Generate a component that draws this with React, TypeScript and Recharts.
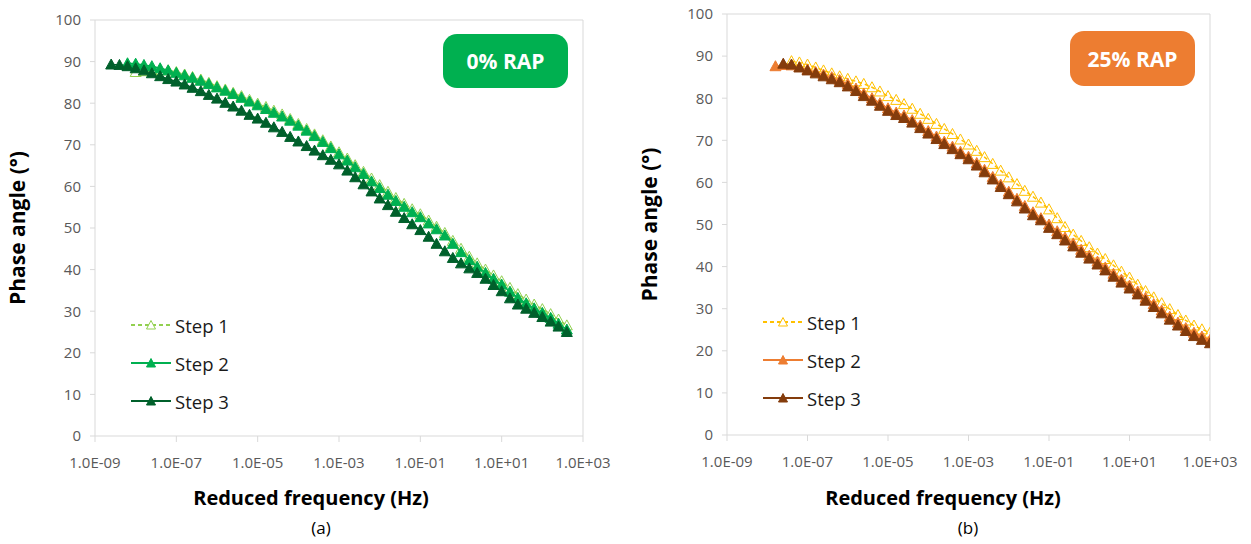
import React from "react"
import { LineChart, Line, XAxis, YAxis, ReferenceLine, Legend } from "recharts"

const xTicks = [1e-9, 1e-7, 1e-5, 1e-3, 1e-1, 1e1, 1e3]
const xTickLabels = ["1.0E-09", "1.0E-07", "1.0E-05", "1.0E-03", "1.0E-01", "1.0E+01", "1.0E+03"]
const yTicks = [0, 10, 20, 30, 40, 50, 60, 70, 80, 90, 100]
const stepNames = ["Step 1", "Step 2", "Step 3"]

// (a) 0% RAP
const freqA = [
  2.5e-9, 4e-9, 6.3e-9,
  1e-8, 1.6e-8, 2.5e-8, 4e-8, 6.3e-8,
  1e-7, 1.6e-7, 2.5e-7, 4e-7, 6.3e-7,
  1e-6, 1.6e-6, 2.5e-6, 4e-6, 6.3e-6,
  1e-5, 1.6e-5, 2.5e-5, 4e-5, 6.3e-5,
  1e-4, 1.6e-4, 2.5e-4, 4e-4, 6.3e-4,
  1e-3, 1.6e-3, 2.5e-3, 4e-3, 6.3e-3,
  1e-2, 1.6e-2, 2.5e-2, 4e-2, 6.3e-2,
  0.1, 0.16, 0.25, 0.4, 0.63,
  1, 1.6, 2.5, 4, 6.3,
  10, 16, 25, 40, 63,
  100, 160, 250, 400,
]
const step1A = [
  null, null, null,
  87.5, 87.7, 87.9, 88.0, 87.9, 87.5, 86.9, 86.3, 85.7, 84.9,
  84.1, 83.3, 82.5, 81.7, 80.8, 79.9, 79.1, 78.2, 77.3, 76.2,
  75.0, 73.8, 72.5, 71.1, 69.6, 68.2, 66.7, 65.1, 63.5, 61.9,
  60.3, 58.7, 57.2, 55.8, 54.5, 53.3, 51.8, 50.3, 48.8, 46.9,
  45.0, 43.1, 41.5, 40.0, 38.6, 37.2, 35.6, 34.1, 32.8, 31.6,
  30.5, 29.3, 28.0, 26.6,
]
const step2A = [
  null, null,
  89.6, 89.5, 89.2, 88.9, 88.4, 87.9, 87.3, 86.7, 86.1, 85.4,
  84.6, 83.8, 83.0, 82.2, 81.3, 80.4, 79.5, 78.6, 77.7, 76.8,
  75.8, 74.6, 73.4, 72.1, 70.7, 69.2, 67.7, 66.2, 64.6, 63.0,
  61.2, 59.6, 58.0, 56.5, 55.1, 53.8, 52.6, 51.1, 49.7, 48.2,
  46.2, 44.2, 42.3, 40.7, 39.2, 37.8, 36.4, 34.7, 33.2, 31.9,
  30.7, 29.6, 28.4, 27.0, 25.6,
]
const step3A = [
  89.3, 89.2, 88.9, 88.4, 87.9, 87.2, 86.5, 85.8, 85.2, 84.5,
  83.7, 82.9, 82.0, 81.1, 80.1, 79.2, 78.2, 77.2, 76.3, 75.3,
  74.2, 73.1, 71.9, 70.8, 69.7, 68.6, 67.5, 66.4, 65.3, 63.8,
  62.2, 60.5, 58.8, 57.1, 55.5, 53.9, 52.4, 50.9, 49.5, 47.9,
  46.2, 44.4, 42.8, 41.5, 40.3, 39.2, 37.8, 36.3, 34.8, 33.1,
  31.6, 30.6, 29.6, 28.6, 27.5, 26.3, 25.0,
]

// (b) 25% RAP
const freqB = [
  1.6e-8, 2.5e-8, 4e-8, 6.3e-8,
  1e-7, 1.6e-7, 2.5e-7, 4e-7, 6.3e-7,
  1e-6, 1.6e-6, 2.5e-6, 4e-6, 6.3e-6,
  1e-5, 1.6e-5, 2.5e-5, 4e-5, 6.3e-5,
  1e-4, 1.6e-4, 2.5e-4, 4e-4, 6.3e-4,
  1e-3, 1.6e-3, 2.5e-3, 4e-3, 6.3e-3,
  1e-2, 1.6e-2, 2.5e-2, 4e-2, 6.3e-2,
  0.1, 0.16, 0.25, 0.4, 0.63,
  1, 1.6, 2.5, 4, 6.3,
  10, 16, 25, 40, 63,
  100, 160, 250, 400, 630,
  1000,
]
const step1B = [
  null, null,
  88.8, 88.5, 88.0, 87.3, 86.6, 85.9, 85.2, 84.6, 84.0, 83.4,
  82.6, 81.6, 80.5, 79.6, 78.6, 77.5, 76.3, 75.1, 73.9, 72.7,
  71.5, 70.2, 69.0, 67.5, 66.0, 64.4, 62.8, 61.2, 59.6, 58.0,
  56.6, 55.2, 53.6, 51.5, 49.4, 47.6, 46.1, 44.6, 43.1, 41.8,
  40.3, 38.8, 37.4, 35.7, 34.2, 32.7, 31.3, 29.9, 28.5, 27.2,
  26.0, 25.1, 24.3,
]
const step2B = [
  87.6, 87.9, 87.8, 87.4, 86.8, 86.2, 85.6, 85.0, 84.3, 83.4,
  82.3, 81.1, 80.0, 78.8, 77.6, 76.6, 75.9, 74.8, 73.5, 72.2,
  70.9, 69.7, 68.5, 67.3, 66.1, 64.6, 63.0, 61.3, 59.5, 57.8,
  56.1, 54.4, 52.9, 51.5, 50.0, 48.4, 46.9, 45.5, 44.0, 42.6,
  41.2, 39.8, 38.3, 36.9, 35.5, 34.1, 32.6, 31.1, 29.6, 28.1,
  26.7, 25.4, 24.3, 23.4, 22.6,
]
const step3B = [
  null,
  88.2, 88.0, 87.3, 86.6, 85.9, 85.2, 84.5, 83.8, 82.8, 81.7,
  80.5, 79.4, 78.2, 77.0, 76.0, 75.3, 74.2, 72.9, 71.6, 70.3,
  69.1, 67.9, 66.7, 65.5, 64.0, 62.4, 60.7, 58.9, 57.2, 55.5,
  53.8, 52.2, 51.0, 49.2, 47.7, 46.2, 44.8, 43.3, 41.9, 40.5,
  39.1, 37.6, 36.2, 34.8, 33.4, 31.9, 30.4, 28.9, 27.4, 26.0,
  24.7, 23.5, 22.6, 21.8,
]

const colorsA = ["#92D050", "#00B050", "#00602B"]
const colorsB = ["#FFC000", "#ED7D31", "#843C0C"]

const font = "'Open Sans', 'Noto Sans', sans-serif"
const gridGrey = "#D9D9D9"

const toPoints = (freq: number[], vals: (number | null)[]) =>
  freq.map((f, i) => ({ f, v: vals[i] })).filter((p) => p.v != null)

const triangle = (color: string, hollow: boolean) => (props: any) => {
  const { cx, cy, index } = props
  if (cx == null || cy == null) return <g key={index} />
  return (
    <polygon
      key={index}
      points={`${cx},${cy - 5.5} ${cx - 5.5},${cy + 4.5} ${cx + 5.5},${cy + 4.5}`}
      fill={hollow ? "none" : color}
      stroke={color}
      strokeWidth={1}
    />
  )
}

const LegendBox = ({ colors }: { colors: string[] }) => (
  <div style={{ fontFamily: font }}>
    {stepNames.map((name, i) => (
      <div key={name} style={{ display: "flex", alignItems: "center", height: 38 }}>
        <svg width={42} height={12}>
          <line x1={1} y1={6} x2={41} y2={6} stroke={colors[i]} strokeWidth={2}
            strokeDasharray={i === 0 ? "4 3" : undefined} />
          <polygon points="21,1.5 16.5,10 25.5,10" fill={i === 0 ? "#fff" : colors[i]} stroke={colors[i]} strokeWidth={1} />
        </svg>
        <span style={{ fontSize: 18.5, color: "#1a1a1a", marginLeft: 3 }}>{name}</span>
      </div>
    ))}
  </div>
)

type PanelProps = {
  left: number
  width: number
  margin: { top: number; right: number; bottom: number; left: number }
  yAxisWidth: number
  freq: number[]
  steps: (number | null)[][]
  colors: string[]
  badge: string
  badgeBox: { left: number; top: number; width: number; height: number }
  legendPos: { left: number; top: number }
  xLabelX: number
  captionX: number
  caption: string
  yLabelOffset: number
}

function Panel(p: PanelProps) {
  return (
    <div style={{ position: "absolute", left: p.left, top: 0, width: p.width, height: 544, fontFamily: font }}>
      <LineChart width={p.width} height={544} margin={p.margin}>
        <XAxis
          dataKey="f"
          type="number"
          scale="log"
          domain={[1e-9, 1e3]}
          ticks={xTicks}
          allowDataOverflow
          height={40}
          axisLine={{ stroke: gridGrey }}
          tickLine={{ stroke: gridGrey }}
          tickSize={6}
          tickMargin={15}
          tick={{ fontSize: 15, fill: "#595959" }}
          tickFormatter={(v: number) => xTickLabels[xTicks.findIndex((t) => Math.abs(Math.log10(t) - Math.log10(v)) < 1e-6)] ?? ""}
        />
        <YAxis
          type="number"
          domain={[0, 100]}
          ticks={yTicks}
          width={p.yAxisWidth}
          axisLine={{ stroke: gridGrey }}
          tickLine={{ stroke: gridGrey }}
          tickSize={5}
          tickMargin={9}
          tick={{ fontSize: 15, fill: "#595959" }}
          label={{
            value: "Phase angle (°)",
            angle: -90,
            position: "insideLeft",
            offset: p.yLabelOffset,
            style: { textAnchor: "middle", fontSize: 21, fontWeight: 700, fill: "#000" },
          }}
        />
        <ReferenceLine y={100} stroke={gridGrey} />
        <ReferenceLine x={1000} stroke={gridGrey} />
        {p.steps.map((vals, i) => (
          <Line
            key={stepNames[i]}
            name={stepNames[i]}
            data={toPoints(p.freq, vals)}
            dataKey="v"
            type="linear"
            stroke={p.colors[i]}
            strokeWidth={1.5}
            strokeDasharray={i === 0 ? "4 3" : undefined}
            dot={triangle(p.colors[i], i === 0)}
            activeDot={false}
            isAnimationActive={false}
          />
        ))}
        <Legend
          layout="vertical"
          align="center"
          verticalAlign="middle"
          wrapperStyle={{ left: p.legendPos.left, top: p.legendPos.top, width: 120 }}
          content={() => <LegendBox colors={p.colors} />}
        />
      </LineChart>
      <div
        style={{
          position: "absolute",
          ...p.badgeBox,
          background: p.colors[1],
          borderRadius: 14,
          color: "#fff",
          fontWeight: 700,
          fontSize: 21,
          display: "flex",
          alignItems: "center",
          justifyContent: "center",
        }}
      >
        {p.badge}
      </div>
      <div
        style={{
          position: "absolute",
          left: p.xLabelX - 150,
          width: 300,
          top: 484,
          textAlign: "center",
          fontSize: 20,
          fontWeight: 700,
          color: "#000",
        }}
      >
        Reduced frequency (Hz)
      </div>
      <div
        style={{
          position: "absolute",
          left: p.captionX - 30,
          width: 60,
          top: 516,
          textAlign: "center",
          fontSize: 17,
          color: "#000",
        }}
      >
        {p.caption}
      </div>
    </div>
  )
}

export default function App() {
  return (
    <div style={{ position: "absolute", left: 0, top: 0, width: 1251, height: 544, background: "#fff" }}>
      <Panel
        left={0}
        width={630}
        margin={{ top: 20, right: 47, bottom: 68, left: 0 }}
        yAxisWidth={95}
        freq={freqA}
        steps={[step1A, step2A, step3A]}
        colors={colorsA}
        badge="0% RAP"
        badgeBox={{ left: 443, top: 34, width: 125, height: 54 }}
        legendPos={{ left: 130, top: 306 }}
        xLabelX={311}
        captionX={321}
        caption="(a)"
        yLabelOffset={18}
      />
      <Panel
        left={630}
        width={621}
        margin={{ top: 14, right: 41, bottom: 69, left: 0 }}
        yAxisWidth={97}
        freq={freqB}
        steps={[step1B, step2B, step3B]}
        colors={colorsB}
        badge="25% RAP"
        badgeBox={{ left: 440, top: 31, width: 125, height: 55 }}
        legendPos={{ left: 132, top: 303 }}
        xLabelX={313}
        captionX={338}
        caption="(b)"
        yLabelOffset={20}
      />
    </div>
  )
}
